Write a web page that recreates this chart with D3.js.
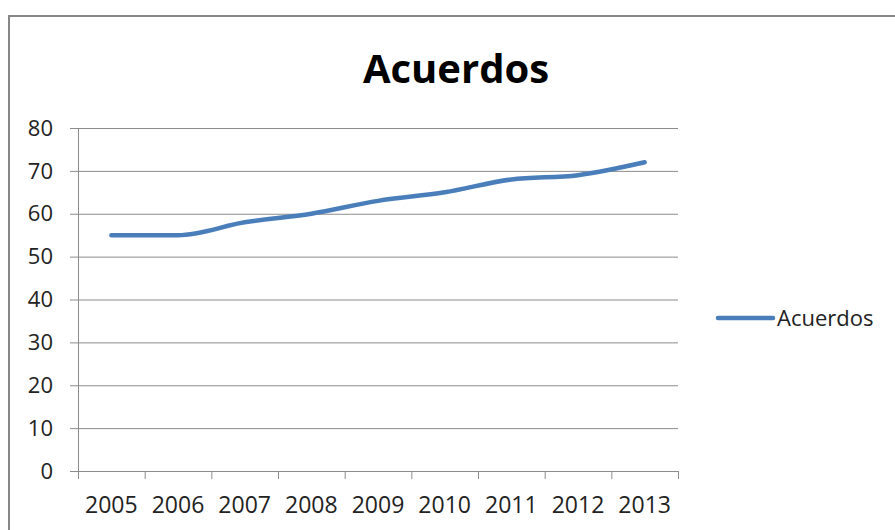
<!DOCTYPE html>
<html>
<head>
<meta charset="utf-8">
<script src="https://cdn.jsdelivr.net/npm/d3@7"></script>
<style>
  body { margin: 0; background: #fff; }
  text { font-family: "Open Sans", sans-serif; fill: #222; }
</style>
</head>
<body>
<svg id="chart" width="895" height="530"></svg>
<script>
const years = ["2005", "2006", "2007", "2008", "2009", "2010", "2011", "2012", "2013"];
const acuerdos = [55, 55, 58, 60, 63, 65, 68, 69, 72];
const yTicks = [0, 10, 20, 30, 40, 50, 60, 70, 80];
const seriesName = "Acuerdos";

const margin = { top: 128, left: 78 };
const width = 600, height = 343;

const svg = d3.select("#chart");

// chart frame (only top and left visible)
svg.append("path")
  .attr("d", "M9,531 L9,16 L896,16")
  .attr("fill", "none")
  .attr("stroke", "#878787")
  .attr("stroke-width", 2);

svg.append("text")
  .attr("x", 456)
  .attr("y", 83)
  .attr("text-anchor", "middle")
  .attr("font-size", 40)
  .attr("font-weight", "bold")
  .style("fill", "#000")
  .text("Acuerdos");

const g = svg.append("g")
  .attr("transform", "translate(" + margin.left + "," + margin.top + ")");

const x = d3.scaleBand()
  .domain(years)
  .range([0, width]);

const y = d3.scaleLinear()
  .domain([0, 80])
  .range([height, 0]);

// gridlines
g.selectAll(".grid")
  .data(yTicks)
  .enter().append("line")
  .attr("x1", -8)
  .attr("x2", width)
  .attr("y1", d => y(d) + 0.5)
  .attr("y2", d => y(d) + 0.5)
  .attr("stroke", "#8c8c8c")
  .attr("stroke-width", 1);

// y axis line
g.append("line")
  .attr("x1", 0.5).attr("x2", 0.5)
  .attr("y1", 0).attr("y2", height)
  .attr("stroke", "#8c8c8c");

g.selectAll(".ylab")
  .data(yTicks)
  .enter().append("text")
  .attr("x", -25)
  .attr("y", d => y(d))
  .attr("dy", "0.35em")
  .attr("text-anchor", "end")
  .attr("font-size", 22)
  .text(d => d);

// x ticks at category boundaries
const bounds = years.map(d => x(d)).concat([width]);
g.selectAll(".xtick")
  .data(bounds)
  .enter().append("line")
  .attr("x1", d => d + 0.5)
  .attr("x2", d => d + 0.5)
  .attr("y1", height)
  .attr("y2", height + 8)
  .attr("stroke", "#8c8c8c");

g.selectAll(".xlab")
  .data(years)
  .enter().append("text")
  .attr("x", d => x(d) + x.bandwidth() / 2)
  .attr("y", height + 42)
  .attr("text-anchor", "middle")
  .attr("font-size", 23)
  .text(d => d);

const line = d3.line()
  .x((d, i) => x(years[i]) + x.bandwidth() / 2)
  .y(d => y(d))
  .curve(d3.curveMonotoneX);

g.append("path")
  .datum(acuerdos)
  .attr("d", line)
  .attr("fill", "none")
  .attr("stroke", "#4a7ebb")
  .attr("stroke-width", 4.5)
  .attr("stroke-linecap", "round")
  .attr("stroke-linejoin", "round");

// legend
const leg = svg.append("g").attr("transform", "translate(718,318)");
leg.append("line")
  .attr("x1", 0).attr("x2", 55)
  .attr("y1", 0).attr("y2", 0)
  .attr("stroke", "#4a7ebb")
  .attr("stroke-width", 4.5)
  .attr("stroke-linecap", "round");
leg.append("text")
  .attr("x", 59)
  .attr("y", 0)
  .attr("dy", "0.35em")
  .attr("font-size", 22)
  .text(seriesName);
</script>
</body>
</html>
